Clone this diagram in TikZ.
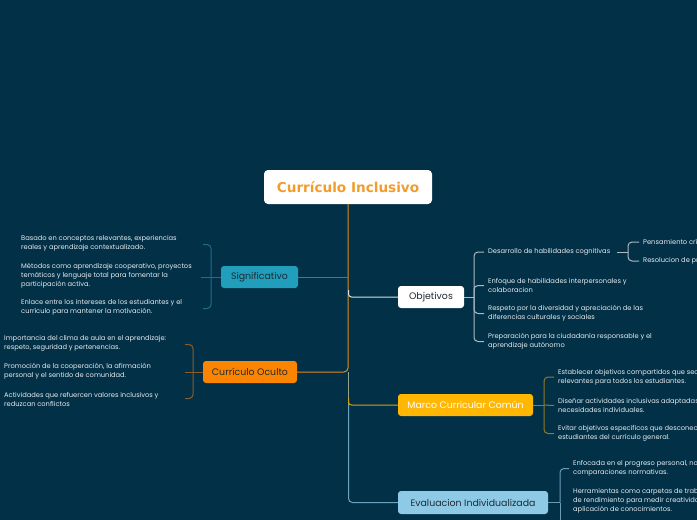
\documentclass[tikz,border=0pt]{standalone}
\usepackage{fontspec}
\setmainfont{Poppins}
\newfontfamily\titlefont{DejaVu Sans}
\definecolor{bg}{HTML}{023047}
\definecolor{sigc}{HTML}{219EBC}
\definecolor{evac}{HTML}{8ECAE6}
\definecolor{marc}{HTML}{FFB703}
\definecolor{ocuc}{HTML}{FB8500}
\definecolor{titc}{HTML}{F39C2C}
\definecolor{trunkc}{HTML}{E08A1E}
\definecolor{darktxt}{HTML}{1E2A33}
\definecolor{subtxt}{HTML}{E6ECF0}
\definecolor{sigbr}{HTML}{1C6E8C}
\definecolor{ocubr}{HTML}{8E5C24}
\definecolor{objbr}{HTML}{AEB9C0}
\definecolor{marbr}{HTML}{8F7B2A}
\definecolor{evabr}{HTML}{6C9DB5}
\definecolor{midc}{HTML}{8FA48C}
\tikzset{
  topic/.style={rounded corners=3pt, inner sep=0pt, font=\fontsize{9.4}{11}\selectfont},
  sub/.style={anchor=west, inner sep=0pt, align=left, text=subtxt, font=\fontsize{6.7}{9}\selectfont},
  link/.style={line width=1pt, rounded corners=4pt},
}
\begin{document}
\begin{tikzpicture}[x=1pt,y=-1pt]
\clip (0,0) rectangle (697,520);
\fill[bg] (0,0) rectangle (697,520);

% main nodes
\node[topic, fill=white, minimum width=168, minimum height=34, rounded corners=4pt, text=titc, font=\titlefont\bfseries\fontsize{13.6}{15}\selectfont] (title) at (348,187) {Currículo Inclusivo};
\node[topic, fill=sigc, minimum width=77, minimum height=22, text=darktxt] (sig) at (259.5,277) {Significativo};
\node[topic, fill=ocuc, minimum width=94, minimum height=22, text=darktxt] (ocu) at (250,372) {Currículo Oculto};
\node[topic, fill=white, minimum width=66, minimum height=22, text=darktxt] (obj) at (431,297) {Objetivos};
\node[topic, fill=marc, minimum width=135, minimum height=22, text=white] (mar) at (465.5,405) {Marco Curricular Común};
\node[topic, fill=evac, minimum width=150, minimum height=23, text=darktxt] (eva) at (473,502.5) {Evaluacion Individualizada};

% trunk coordinates
\coordinate (tsig) at (348.5,277);
\coordinate (tobj) at (348.5,290);
\coordinate (tocu) at (348.5,372);
\coordinate (tmar) at (348.5,398);
\coordinate (tmid) at (348.5,405);

\draw[link, trunkc] (title.south) |- (ocu.east);
\draw[link, sigc!80!bg] (sig.east) -- (tsig);
\draw[link, white!85!bg, rounded corners=3pt] (tobj) |- (obj.west);
\draw[link, midc] (tocu) -- (tmid);
\draw[link, marc!85!bg, rounded corners=3pt] (tmar) |- (mar.west);
\draw[link, evac!75!bg] (tmid) |- (eva.west);

% Significativo children
\node[sub] (s1) at (21,243.5) {Basado en conceptos relevantes, experiencias\\reales y aprendizaje contextualizado.};
\node[sub] (s2) at (21,276) {Métodos como aprendizaje cooperativo, proyectos\\temáticos y lenguaje total para fomentar la\\participación activa.};
\node[sub] (s3) at (21,307.5) {Enlace entre los intereses de los estudiantes y el\\currículo para mantener la motivación.};
\coordinate (sb) at (211,277);
\coordinate (sh1) at (203,244.5);
\coordinate (sh3) at (203,308.5);
\coordinate (sh2) at (201,277);
\draw[link, sigbr] (sb) |- (sh1);
\draw[link, sigbr] (sb) |- (sh3);
\draw[link, sigbr] (sig.west) -- (sh2);

% Curriculo Oculto children
\node[sub] (c1) at (4,343.5) {Importancia del clima de aula en el aprendizaje:\\respeto, seguridad y pertenencias.};
\node[sub] (c2) at (4,371.5) {Promoción de la cooperación, la afirmación\\personal y el sentido de comunidad.};
\node[sub] (c3) at (4,399.5) {Actividades que refuercen valores inclusivos y\\reduzcan conflictos};
\coordinate (cb) at (193,372);
\coordinate (ch1) at (185,344.5);
\coordinate (ch3) at (185,398.5);
\coordinate (ch2) at (185,372);
\draw[link, ocubr] (cb) |- (ch1);
\draw[link, ocubr] (cb) |- (ch3);
\draw[link, ocubr] (ocu.west) -- (ch2);

% Objetivos children
\node[sub] (o1) at (488,252) {Desarrollo de habilidades cognitivas};
\node[sub] (o2) at (488,285.5) {Enfoque de habilidades interpersonales y\\colaboracion};
\node[sub] (o3) at (488,313.5) {Respeto por la diversidad y apreciación de las\\diferencias culturales y sociales};
\node[sub] (o4) at (488,341.5) {Preparación para la ciudadanía responsable y el\\aprendizaje autónomo};
\coordinate (ob) at (474,297);
\draw[link, objbr] (obj.east) -- (ob);
\draw[link, objbr] (ob) |- ([xshift=-4]o1.west);
\draw[link, objbr] (ob) |- ([xshift=-4]o2.west);
\draw[link, objbr] (ob) |- ([xshift=-4]o3.west);
\draw[link, objbr] (ob) |- ([xshift=-4]o4.west);

\node[sub] (p1) at (643,242) {Pensamiento crítico};
\node[sub] (p2) at (643,261) {Resolucion de problemas};
\coordinate (pb) at (628,252);
\coordinate (pa) at (617,252);
\draw[link, objbr] (pa) -- (pb);
\draw[link, objbr] (pb) |- ([xshift=-4]p1.west);
\draw[link, objbr] (pb) |- ([xshift=-4]p2.west);

% Marco children
\node[sub] (m1) at (558,377) {Establecer objetivos compartidos que sean\\relevantes para todos los estudiantes.};
\node[sub] (m2) at (558,405.5) {Diseñar actividades inclusivas adaptadas a las\\necesidades individuales.};
\node[sub] (m3) at (558,433.5) {Evitar objetivos específicos que desconecten a los\\estudiantes del currículo general.};
\coordinate (mb) at (544,405);
\draw[link, marbr] (mar.east) -- (mb);
\draw[link, marbr] (mb) |- ([xshift=-4]m1.west);
\draw[link, marbr] (mb) -- ([xshift=-4]m2.west);
\draw[link, marbr] (mb) |- ([xshift=-4]m3.west);

% Evaluacion children
\node[sub] (e1) at (573,468.5) {Enfocada en el progreso personal, no en\\comparaciones normativas.};
\node[sub] (e2) at (573,501) {Herramientas como carpetas de trabajo y pruebas\\de rendimiento para medir creatividad y\\aplicación de conocimientos.};
\coordinate (eb) at (560,502.5);
\coordinate (ebot) at (560,530);
\draw[link, evabr] (eva.east) -- (eb);
\draw[link, evabr] (eb) |- ([xshift=-4]e1.west);
\draw[link, evabr] (eb) -- (ebot);
\end{tikzpicture}
\end{document}
